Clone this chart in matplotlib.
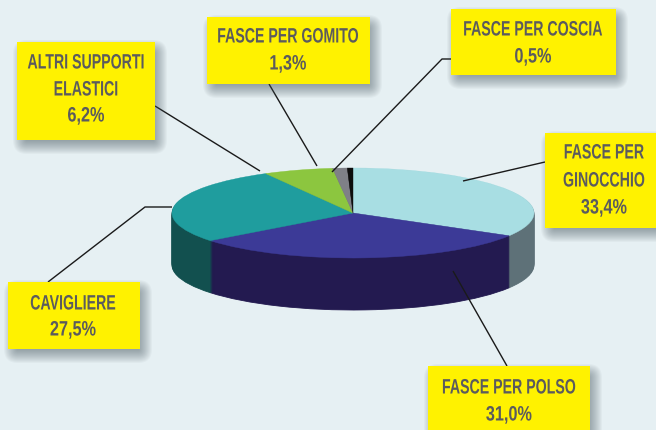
import matplotlib
matplotlib.use("Agg")
import matplotlib.pyplot as plt
from matplotlib.patches import FancyBboxPatch, Rectangle
from matplotlib.patheffects import AbstractPathEffect
from matplotlib.transforms import Affine2D

categories = ["Fasce per ginocchio", "Fasce per polso", "Cavigliere",
              "Altri supporti elastici", "Fasce per gomito", "Fasce per coscia"]
values = [33.4, 31.0, 27.5, 6.2, 1.3, 0.5]
top_colors = ["#a8dee3", "#3c3a97", "#1f9d9e", "#8cc63f", "#7f8087", "#0d0d0d"]
side_colors = ["#5e7178", "#231a50", "#12504f", "#5a7d2a", "#4d4d52", "#000000"]

# label box: left, top, right, bottom, text centre x, lines (text, centre y)
boxes = [
    (17, 43, 155, 141, 86, [("ALTRI SUPPORTI", 64), ("ELASTICI", 91), ("6,2%", 117)]),
    (207, 18, 370, 85, 288, [("FASCE PER GOMITO", 38), ("1,3%", 65)]),
    (451, 10, 616, 76, 533, [("FASCE PER COSCIA", 31), ("0,5%", 58)]),
    (545, 134, 660, 229, 604, [("FASCE PER", 154), ("GINOCCHIO", 182), ("33,4%", 209)]),
    (8, 283, 140, 350, 73, [("CAVIGLIERE", 305), ("27,5%", 331)]),
    (428, 367, 590, 435, 509, [("FASCE PER POLSO", 389), ("31,0%", 416)]),
]
leaders = [
    [(155, 107), (260, 172)],
    [(269, 85), (317, 167)],
    [(451, 60), (442, 60), (332, 173)],
    [(545, 163), (463, 182)],
    [(507, 367), (453, 272)],
    [(48, 283), (145, 208), (172, 208)],
]

BG = "#e6f0f3"
W, H = 656, 431
CX, CY, RX, RY, DEPTH = 353, 214, 181, 45, 52


class Squeeze(AbstractPathEffect):
    """Draw a real text narrower about its anchor, then move it right by shift pixels
    (no condensed font is installed)."""

    def __init__(self, sx, cx_pixels, shift=0):
        super().__init__()
        self.sx, self.cx, self.shift = sx, cx_pixels, shift

    def draw_path(self, renderer, gc, tpath, affine, rgbFace=None):
        squeeze = (Affine2D().translate(-self.cx, 0).scale(self.sx, 1)
                   .translate(self.cx + self.shift, 0))
        renderer.draw_path(gc, tpath, affine + squeeze, rgbFace)


fig = plt.figure(figsize=(W / 100, H / 100), dpi=100, facecolor=BG)

pie_ax = fig.add_axes([0, 0, 1, 1])
for d in range(DEPTH, 0, -1):
    wedges, _ = pie_ax.pie(values, colors=side_colors, startangle=90, counterclock=False,
                           center=(0, -d / RY), radius=1,
                           wedgeprops={"linewidth": 0.6})
    for w in wedges:
        w.set_edgecolor(w.get_facecolor())
wedges, _ = pie_ax.pie(values, colors=top_colors, startangle=90, counterclock=False,
                       center=(0, 0), radius=1,
                       wedgeprops={"linewidth": 0.3})
for w in wedges:
    w.set_edgecolor(w.get_facecolor())
pie_ax.set_aspect("auto")
pie_ax.set_xlim(-CX / RX, (W - CX) / RX)
pie_ax.set_ylim((CY - H) / RY, CY / RY)
pie_ax.axis("off")

ax = fig.add_axes([0, 0, 1, 1], facecolor="none")
ax.set_xlim(0, W)
ax.set_ylim(H, 0)
ax.axis("off")

for pts in leaders:
    ax.plot([p[0] for p in pts], [p[1] for p in pts], color="#1a1a1a", lw=1.0, zorder=2,
            solid_capstyle="butt")

for left, top, right, bottom, tx, lines in boxes:
    for r in range(14, 0, -1):
        ax.add_patch(FancyBboxPatch((left + 4, top + 6), right - left, bottom - top,
                                    boxstyle=f"round,pad={r - 6},rounding_size={r}",
                                    fc="#44555c", ec="none", alpha=0.045, zorder=3))
    ax.add_patch(Rectangle((left, top), right - left, bottom - top, fc="#fff200", ec="none", zorder=4))
    shift = max(0, tx + 62 - W)
    for s, y in lines:
        sx = 0.78 if "%" in s else 0.68
        ax.text(tx - shift, y, s, ha="center", va="center", color="#5b5b5e", fontsize=15,
                fontweight="bold", family="Liberation Sans", zorder=5,
                path_effects=[Squeeze(sx, tx - shift, shift)])

fig.savefig("out.png", dpi=100, facecolor=BG)
